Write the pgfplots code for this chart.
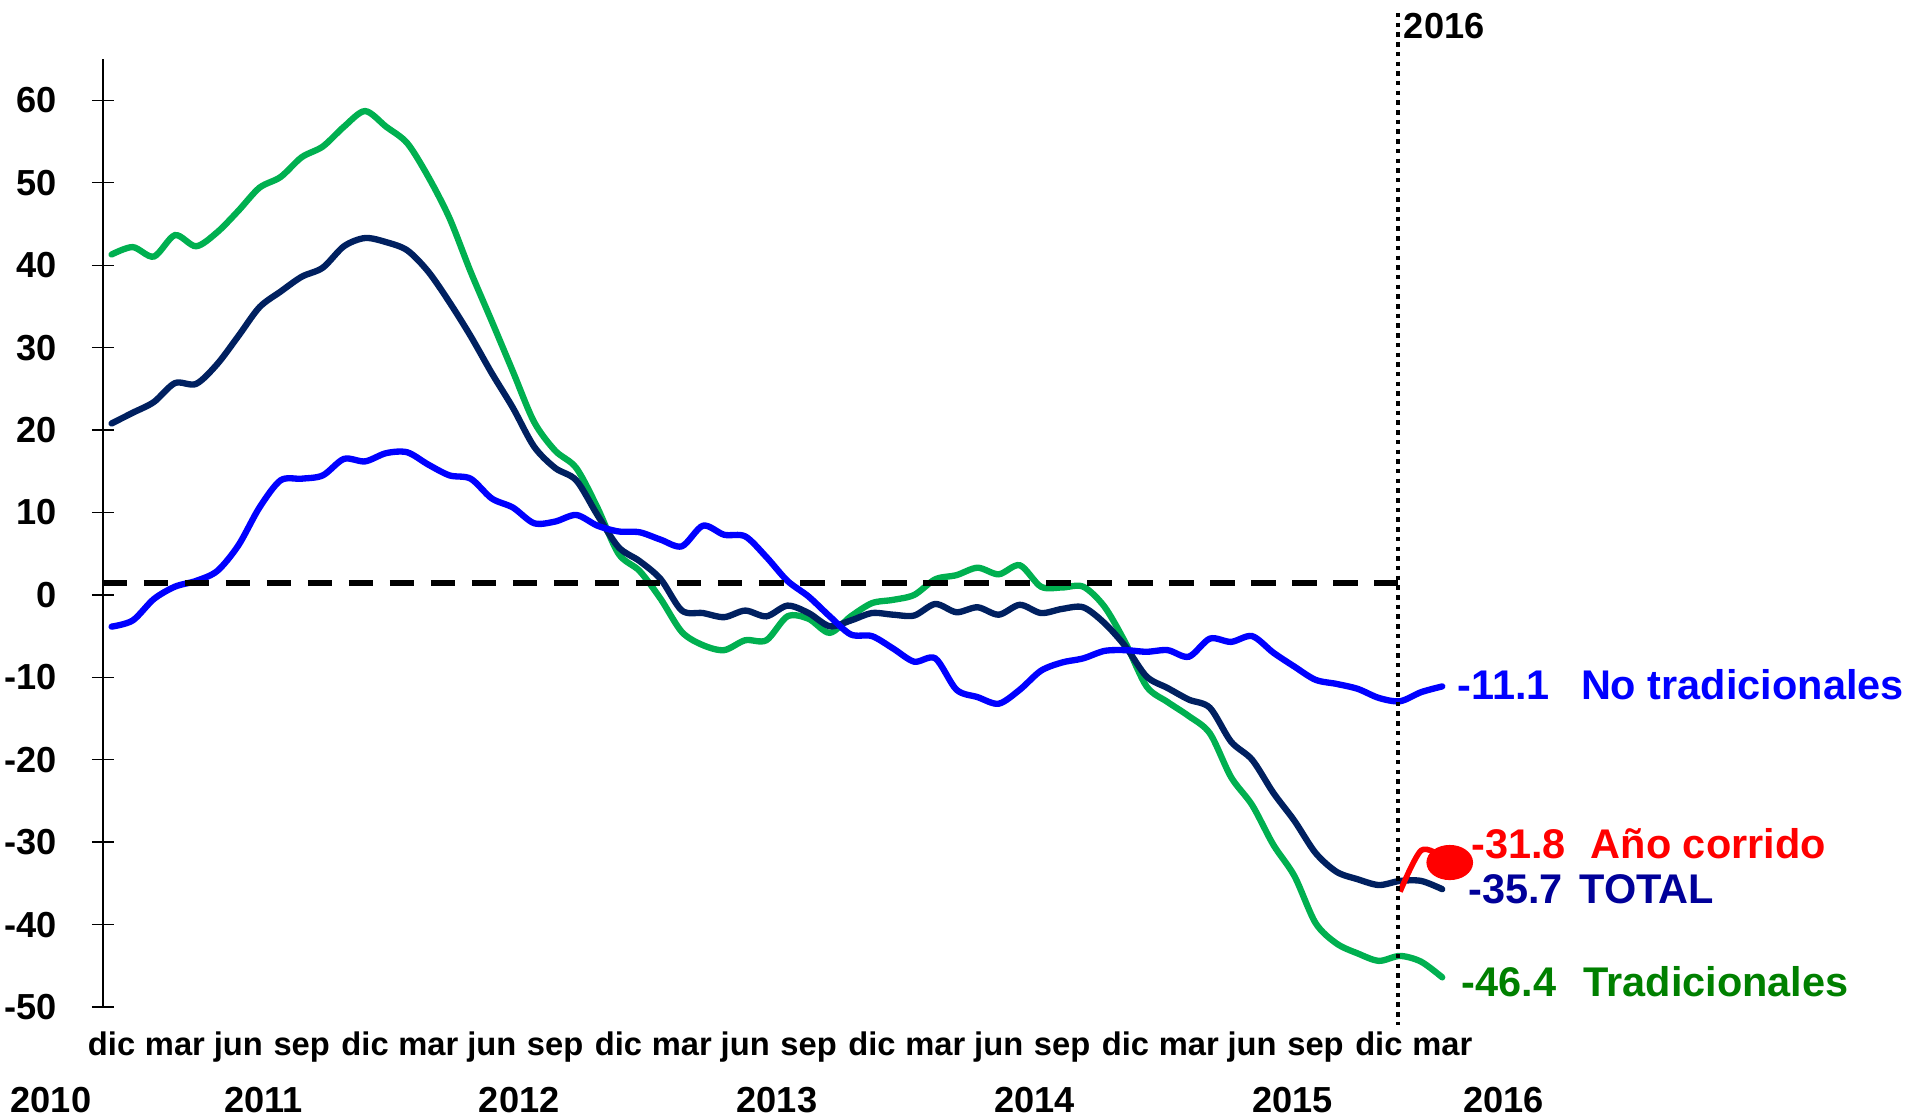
\documentclass[border=0pt]{standalone}
\usepackage{pgfplots}
\pgfplotsset{compat=1.18}
\usepackage{pgfplotstable}
\usepackage{fontspec}
\setmainfont{Liberation Sans}

\definecolor{cverde}{HTML}{00B050}
\definecolor{cverdetxt}{HTML}{008000}
\definecolor{cnavy}{HTML}{002060}
\definecolor{cnavytxt}{HTML}{000099}
\definecolor{cazul}{HTML}{0000FF}

% m = months since dic 2010
\pgfplotstableread{
m trad total notrad
0 41.3 20.8 -3.85
1 42.2 22.1 -3.1
2 41.05 23.4 -0.5
3 43.65 25.7 1.0
4 42.3 25.6 1.7
5 44.0 28.0 2.9
6 46.6 31.4 6.0
7 49.4 34.9 10.6
8 50.7 36.8 13.9
9 53.1 38.6 14.1
10 54.4 39.7 14.5
11 56.8 42.3 16.5
12 58.7 43.3 16.2
13 56.8 42.8 17.2
14 54.8 41.8 17.3
15 50.7 39.2 15.8
16 45.7 35.5 14.5
17 39.2 31.4 14.1
18 33.2 26.9 11.7
19 27.1 22.7 10.6
20 21.0 18.0 8.7
21 17.5 15.4 8.9
22 15.4 13.9 9.7
23 10.6 9.7 8.4
24 5.0 5.8 7.7
25 2.9 4.1 7.6
26 -0.5 1.9 6.7
27 -4.5 -1.9 5.9
28 -6.1 -2.2 8.4
29 -6.7 -2.7 7.3
30 -5.5 -1.9 7.1
31 -5.5 -2.6 4.6
32 -2.6 -1.3 1.7
33 -2.9 -2.2 -0.2
34 -4.6 -3.8 -2.6
35 -2.6 -3.1 -4.8
36 -1.0 -2.2 -5.0
37 -0.6 -2.4 -6.5
38 0.0 -2.5 -8.1
39 1.9 -1.1 -7.7
40 2.4 -2.1 -11.5
41 3.3 -1.5 -12.4
42 2.5 -2.4 -13.2
43 3.6 -1.2 -11.5
44 1.0 -2.2 -9.2
45 0.9 -1.7 -8.2
46 1.0 -1.5 -7.7
47 -1.4 -3.4 -6.8
48 -5.8 -6.25 -6.7
49 -11.1 -9.9 -6.9
50 -13.0 -11.3 -6.7
51 -14.7 -12.7 -7.5
52 -16.8 -13.7 -5.3
53 -22.1 -17.8 -5.7
54 -25.5 -20.0 -5.0
55 -30.3 -24.0 -7.0
56 -34.1 -27.4 -8.7
57 -39.8 -31.3 -10.3
58 -42.3 -33.6 -10.8
59 -43.5 -34.5 -11.4
60 -44.4 -35.2 -12.5
61 -43.8 -34.7 -12.9
62 -44.5 -34.7 -11.8
63 -46.4 -35.7 -11.1
}\datos

\pgfplotstableread{
m corrido
61 -36.0
62 -31.0
63 -31.8
}\corrido

\begin{document}
\begin{tikzpicture}
\begin{axis}[
    scale only axis,
    width=134.34mm, height=94.78mm,
    xmin=-0.41, xmax=63.2,
    ymin=-50, ymax=65,
    axis lines*=left,
    x axis line style={draw=none},
    y axis line style={line width=0.4pt},
    ytick={-50,-40,...,60},
    xtick={0,3,...,63},
    xticklabels={dic,mar,jun,sep,dic,mar,jun,sep,dic,mar,jun,sep,dic,mar,jun,sep,dic,mar,jun,sep,dic,mar},
    major x tick style={draw=none},
    major y tick style={line width=0.4pt, black},
    tick align=center,
    major tick length=2.2mm,
    clip=false,
    /pgf/number format/assume math mode=true,
    yticklabel style={font=\fontsize{10.3}{12}\selectfont\bfseries, anchor=east, inner sep=0pt, xshift=-3.45mm},
    xticklabel style={font=\fontsize{9.3}{11}\selectfont\bfseries, anchor=base, inner sep=0pt, yshift=-3.77mm},
]
% frame of the picture
\path (axis cs:-5.284,72.18) rectangle (axis cs:85.1,-63.34);

\addplot[cverde, line width=1.8pt, smooth, line cap=round] table[x=m, y=trad] {\datos};
\addplot[cnavy, line width=1.8pt, smooth, line cap=round] table[x=m, y=total] {\datos};
\addplot[cazul, line width=1.8pt, smooth, line cap=round] table[x=m, y=notrad] {\datos};
\addplot[red, line width=1.6pt, smooth, mark=*, mark indices={3}, mark size=1.475mm,
    mark options={xshift=0.75mm, yshift=-0.55mm, xscale=1.39, fill=red, draw=red}] table[x=m, y=corrido] {\corrido};

% reference lines
\addplot[black, line width=1.6pt, dash pattern=on 2.45mm off 1.65mm] coordinates {(-0.41,1.44) (60.9,1.44)};
\draw[black, line width=0.42mm, dash pattern=on 0.45mm off 0.52mm] (axis cs:60.9,70.6) -- (axis cs:60.9,-52.2);

% years
\begin{scope}[every node/.style={anchor=base, inner sep=0pt, font=\fontsize{10.3}{12}\selectfont\bfseries}]
\node at (axis cs:-2.87,-62.8) {2010};
\node at (axis cs:7.2,-62.8) {2011};
\node at (axis cs:19.3,-62.8) {2012};
\node at (axis cs:31.5,-62.8) {2013};
\node at (axis cs:43.7,-62.8) {2014};
\node at (axis cs:55.9,-62.8) {2015};
\node at (axis cs:65.9,-62.8) {2016};
\node[anchor=base west] at (axis cs:61.15,67.5) {2016};
\end{scope}

% end labels
\begin{scope}[every node/.style={anchor=west, inner sep=0pt, font=\fontsize{11.8}{13}\selectfont\bfseries}]
\node[text=cazul] at (axis cs:63.7,-10.9) {-11.1\hspace{0.75em}No tradicionales};
\node[text=red] at (axis cs:64.35,-30.2) {-31.8\hspace{0.6em}Año corrido};
\node[text=cnavytxt] at (axis cs:64.2,-35.7) {-35.7\hspace{0.4em}TOTAL};
\node[text=cverdetxt] at (axis cs:63.9,-46.9) {-46.4\hspace{0.65em}Tradicionales};
\end{scope}
\end{axis}
\end{tikzpicture}
\end{document}
